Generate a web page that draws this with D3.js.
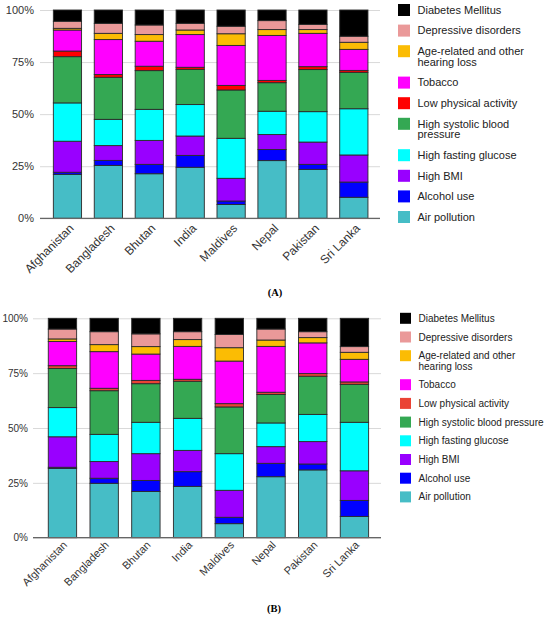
<!DOCTYPE html>
<html>
<head>
<meta charset="utf-8">
<script src="https://cdn.jsdelivr.net/npm/d3@7"></script>
<style>
body { margin: 0; background: #fff; }
svg { display: block; font-family: "Liberation Sans", Arial, sans-serif; }
</style>
</head>
<body>
<svg id="chart" width="550" height="617"></svg>
<script>
var countries = ["Afghanistan", "Bangladesh", "Bhutan", "India", "Maldives", "Nepal", "Pakistan", "Sri Lanka"];
// stacking order, bottom to top
var seriesNames = ["Air pollution", "Alcohol use", "High BMI", "High fasting glucose",
	"High systolic blood pressure", "Low physical activity", "Tobacco",
	"Age-related and other hearing loss", "Depressive disorders", "Diabetes Mellitus"];
var yTicks = [0, 0.25, 0.5, 0.75, 1];

// panel A (percent of total, per country)
var airA     = [21.1, 25.4, 21.4, 24.5, 6.6, 27.7, 23.5, 10.1];
var alcoholA = [1.0, 2.4, 4.5, 5.7, 1.7, 5.3, 2.4, 7.3];
var bmiA     = [14.9, 7.1, 11.5, 9.3, 10.9, 7.2, 10.7, 13.0];
var glucoseA = [18.4, 12.6, 14.9, 15.1, 19.2, 11.2, 14.6, 22.2];
var sbpA     = [22.2, 20.2, 18.6, 16.9, 23.2, 13.7, 20.2, 17.5];
var activityA = [2.7, 1.3, 2.1, 1.0, 2.2, 1.1, 1.4, 0.9];
var tobaccoA = [10.1, 16.8, 12.0, 15.7, 19.2, 21.6, 16.0, 10.1];
var hearingA = [0.8, 3.0, 3.2, 2.2, 5.6, 2.8, 1.8, 3.4];
var depressA = [3.4, 4.8, 4.6, 3.2, 3.6, 4.3, 2.5, 2.9];
var diabetesA = [5.4, 6.4, 7.2, 6.4, 7.8, 5.1, 6.9, 12.6];

// panel B
var airB     = [31.6, 24.8, 21.1, 23.4, 6.4, 27.8, 30.9, 9.7];
var alcoholB = [0.5, 2.3, 5.0, 6.7, 2.9, 6.1, 2.7, 7.3];
var bmiB     = [13.9, 7.6, 12.2, 9.7, 12.3, 7.6, 10.2, 13.5];
var glucoseB = [13.3, 12.4, 14.3, 14.6, 16.7, 10.8, 12.4, 22.1];
var sbpB     = [17.8, 19.9, 17.6, 16.9, 21.3, 13.0, 17.4, 17.3];
var activityB = [1.3, 1.1, 1.5, 0.9, 1.5, 1.0, 1.2, 1.1];
var tobaccoB = [11.0, 16.7, 12.0, 15.0, 19.4, 20.9, 14.0, 10.3];
var hearingB = [1.2, 3.2, 3.4, 3.1, 6.1, 2.9, 2.4, 3.2];
var depressB = [4.5, 5.9, 5.8, 3.6, 6.0, 5.0, 2.7, 2.6];
var diabetesB = [4.9, 6.1, 7.1, 6.1, 7.4, 4.9, 6.1, 12.9];

var colorsA = ["#46bdc6", "#0000ff", "#9900ff", "#00ffff", "#34a853", "#ff0000", "#ff00ff", "#fbbc04", "#ea9999", "#000000"];
var colorsB = ["#46bdc6", "#0000ff", "#9900ff", "#00ffff", "#34a853", "#ea4335", "#ff00ff", "#fbbc04", "#ea9999", "#000000"];

// legend text, top to bottom (legend is reversed stack order)
var legendA = [["Diabetes Mellitus"], ["Depressive disorders"], ["Age-related and other", "hearing loss"],
	["Tobacco"], ["Low physical activity"], ["High systolic blood", "pressure"], ["High fasting glucose"],
	["High BMI"], ["Alcohol use"], ["Air pollution"]];
var legendB = [["Diabetes Mellitus"], ["Depressive disorders"], ["Age-related and other", "hearing loss"],
	["Tobacco"], ["Low physical activity"], ["High systolic blood pressure"], ["High fasting glucose"],
	["High BMI"], ["Alcohol use"], ["Air pollution"]];

var svg = d3.select("#chart");

function drawPanel(series, colors, legendLines, o) {
	var table = countries.map(function(c, i) {
		var row = { country: c };
		seriesNames.forEach(function(k, j) { row[k] = series[j][i]; });
		return row;
	});
	var stacked = d3.stack().keys(seriesNames).offset(d3.stackOffsetExpand)(table);

	var x = d3.scaleBand().domain(countries)
		.range([o.bandStart, o.bandEnd])
		.paddingInner(o.pad).paddingOuter(o.pad / 2);
	var y = d3.scaleLinear().domain([0, 1]).range([o.bottom, o.top]);

	var g = svg.append("g");

	// gridlines + y labels
	var yAxis = g.append("g")
		.attr("transform", "translate(" + o.axisLeft + ",0)")
		.call(d3.axisLeft(y).tickValues(yTicks).tickFormat(d3.format(".0%"))
			.tickSize(-(o.axisRight - o.axisLeft)).tickPadding(o.axisLeft - o.tickX));
	yAxis.select(".domain").remove();
	yAxis.selectAll("line").attr("stroke", "#d9d9d9");
	yAxis.selectAll("text").attr("fill", "#333").style("font-size", o.tickFont + "px");

	// x labels
	var xAxis = g.append("g")
		.attr("transform", "translate(0," + o.bottom + ")")
		.call(d3.axisBottom(x).tickSize(0));
	xAxis.select(".domain").remove();
	xAxis.selectAll("text")
		.attr("x", 0).attr("y", 0).attr("dy", 0)
		.attr("text-anchor", "end")
		.attr("fill", "#333")
		.style("font-size", o.labelFont + "px")
		.attr("transform", "translate(" + o.labelDx + "," + o.labelDy + ") rotate(-45)");

	// bars
	g.append("g").selectAll("g")
		.data(stacked)
		.enter().append("g")
		.attr("fill", function(d, i) { return colors[i]; })
		.selectAll("rect")
		.data(function(d) { return d; })
		.enter().append("rect")
		.attr("x", function(d) { return x(d.data.country); })
		.attr("y", function(d) { return y(d[1]); })
		.attr("width", x.bandwidth())
		.attr("height", function(d) { return y(d[0]) - y(d[1]); })
		.attr("stroke", "#2a2a2a")
		.attr("stroke-width", 0.9);

	// baseline
	g.append("line")
		.attr("x1", o.axisLeft).attr("x2", o.axisRight)
		.attr("y1", y(0)).attr("y2", y(0))
		.attr("stroke", "#666").attr("stroke-width", 1.2);

	// legend
	var extra = 0;
	legendLines.forEach(function(lines, i) {
		var cy = o.legendTop + i * o.rowStep + extra * o.lineH;
		var idx = seriesNames.length - 1 - i;
		g.append("rect")
			.attr("x", o.legendX).attr("y", cy - o.swatch / 2)
			.attr("width", o.swatch).attr("height", o.swatch)
			.attr("fill", colors[idx]);
		var t = g.append("text")
			.attr("x", o.legendX + o.swatch + 7.5)
			.attr("y", cy)
			.attr("fill", "#222")
			.style("font-size", o.legendFont + "px");
		lines.forEach(function(line, k) {
			t.append("tspan")
				.attr("x", o.legendX + o.swatch + 7.5)
				.attr("y", cy + k * o.lineH)
				.attr("dy", "0.35em")
				.text(line);
		});
		extra += lines.length - 1;
	});

	g.append("text")
		.attr("x", o.captionX).attr("y", o.captionY)
		.attr("text-anchor", "middle")
		.style("font-family", "'Liberation Serif', 'Times New Roman', serif")
		.style("font-weight", "bold")
		.style("font-size", "10.5px")
		.text(o.caption);
}

drawPanel(
	[airA, alcoholA, bmiA, glucoseA, sbpA, activityA, tobaccoA, hearingA, depressA, diabetesA],
	colorsA, legendA,
	{ top: 10, bottom: 218.3, axisLeft: 40, axisRight: 380, tickX: 34, tickFont: 11,
	  bandStart: 47, bandEnd: 374.3, pad: 0.31, labelFont: 12, labelDx: 7, labelDy: 10.7,
	  legendX: 398, legendTop: 10, rowStep: 20.6, lineH: 10.8, swatch: 12, legendFont: 11,
	  caption: "(A)", captionX: 275, captionY: 295.5 });

drawPanel(
	[airB, alcoholB, bmiB, glucoseB, sbpB, activityB, tobaccoB, hearingB, depressB, diabetesB],
	colorsB, legendB,
	{ top: 318.3, bottom: 537.7, axisLeft: 33, axisRight: 381, tickX: 28, tickFont: 10,
	  bandStart: 41.6, bandEnd: 375.3, pad: 0.32, labelFont: 11, labelDx: 5.5, labelDy: 8,
	  legendX: 400, legendTop: 318.3, rowStep: 18.7, lineH: 10.3, swatch: 11, legendFont: 10,
	  caption: "(B)", captionX: 274, captionY: 611.5 });
</script>
</body>
</html>
